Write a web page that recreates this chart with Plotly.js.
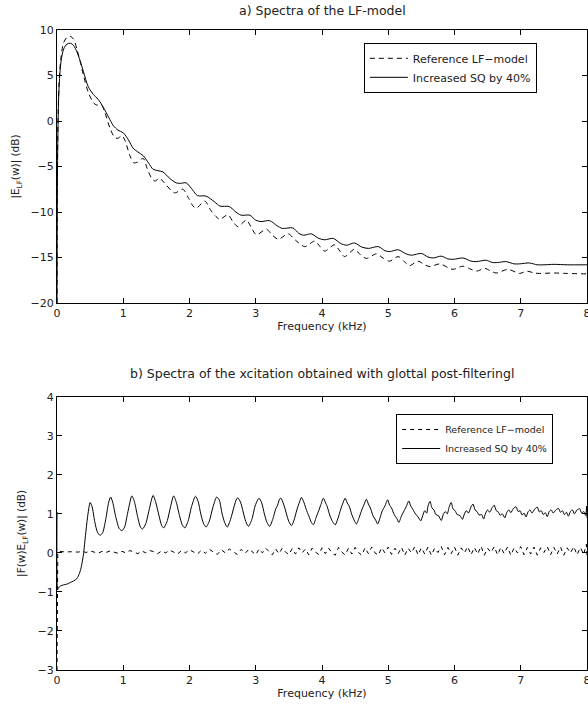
<!DOCTYPE html>
<html>
<head>
<meta charset="utf-8">
<script src="https://cdn.plot.ly/plotly-3.0.1.min.js"></script>
<style>html,body{margin:0;padding:0;background:#fff;}#chart{width:588px;height:704px;}</style>
</head>
<body>
<div id="chart"></div>
<script>
// ---------- a) Spectra of the LF-model ----------
var topRefFreq = [0,0.005,0.015,0.03,0.06,0.1,0.15,0.2,0.25,0.3,0.35,0.4,0.47,0.55,0.6,0.67,0.72,0.8,0.87,0.92,0.98,1.03,1.1,1.16,1.22,1.3,1.36,1.43,1.48,1.55,1.62,1.72,1.78,1.9,1.98,2.05,2.1,2.23,2.32,2.4,2.46,2.58,2.65,2.73,2.86,2.94,3.01,3.16,3.26,3.34,3.49,3.6,3.74,3.89,3.97,4.04,4.19,4.27,4.34,4.49,4.58,4.67,4.82,4.93,5.02,5.15,5.25,5.32,5.45,5.55,5.63,5.78,5.9,5.98,6.13,6.25,6.33,6.46,6.55,6.63,6.81,6.92,6.98,7.1,7.2,7.28,7.5,7.7,8];
var topRef = [-20,-6,0,4,7,8.6,9.2,9.3,9.0,7.9,6.5,5.0,3.2,2.0,1.75,1.75,1.0,-0.8,-1.8,-1.9,-1.6,-2.2,-3.8,-4.6,-4.5,-4.1,-5.2,-6.3,-6.6,-6.3,-6.8,-7.6,-7.9,-7.5,-8.4,-9.3,-9.6,-8.8,-9.8,-10.5,-10.8,-10.3,-11.0,-11.6,-10.9,-11.8,-12.5,-11.9,-12.6,-13.0,-12.4,-13.1,-13.8,-13.2,-13.8,-14.3,-13.6,-14.3,-14.9,-14.1,-14.7,-15.1,-14.6,-15.1,-15.4,-14.9,-15.5,-15.9,-15.4,-15.8,-16.0,-15.7,-16.1,-16.3,-15.95,-16.3,-16.5,-16.2,-16.5,-16.7,-16.3,-16.6,-16.75,-16.5,-16.7,-16.75,-16.7,-16.75,-16.8];

var topSqFreq = [0,0.005,0.015,0.03,0.06,0.1,0.15,0.2,0.25,0.3,0.35,0.4,0.47,0.55,0.62,0.7,0.78,0.85,0.92,1.0,1.08,1.15,1.22,1.3,1.38,1.45,1.52,1.6,1.7,1.8,1.86,1.95,2.05,2.12,2.25,2.38,2.46,2.6,2.7,2.78,2.91,3.0,3.08,3.21,3.32,3.4,3.56,3.65,3.72,3.84,3.95,4.04,4.17,4.28,4.37,4.49,4.6,4.7,4.85,4.95,5.02,5.15,5.27,5.35,5.5,5.6,5.68,5.8,5.9,5.98,6.13,6.25,6.33,6.48,6.57,6.65,6.78,6.9,6.98,7.13,7.25,7.35,7.5,7.7,8];
var topSq = [-20,-8,-1,3.5,6.5,7.9,8.45,8.55,8.3,7.6,6.6,5.4,3.8,2.9,2.4,1.5,0.4,-0.5,-1.0,-1.3,-2.1,-3.0,-3.4,-3.8,-4.6,-5.3,-5.45,-5.6,-6.3,-6.8,-6.85,-6.8,-7.6,-8.2,-8.25,-8.9,-9.35,-9.4,-10.0,-10.35,-10.35,-10.9,-11.05,-10.95,-11.5,-11.8,-11.75,-12.35,-12.55,-12.4,-12.9,-13.05,-12.9,-13.45,-13.65,-13.4,-13.85,-14.0,-13.8,-14.25,-14.35,-14.15,-14.6,-14.75,-14.55,-14.95,-15.05,-14.85,-15.15,-15.2,-15.05,-15.4,-15.45,-15.3,-15.55,-15.55,-15.45,-15.7,-15.7,-15.6,-15.8,-15.8,-15.75,-15.8,-15.8];

// ---------- b) Spectra of the excitation with glottal post-filtering ----------
var botRefFreq = [0,0.006,0.012,0.03,0.08,0.14,0.2,0.26,0.32,0.38,0.44,0.5,0.56,0.62,0.68,0.74,0.8,0.86,0.92,0.98,1.04,1.1,1.16,1.22,1.28,1.34,1.4,1.46,1.52,1.58,1.64,1.7,1.76,1.82,1.88,1.94,2.0,2.06,2.12,2.18,2.24,2.3,2.36,2.42,2.48,2.54,2.6,2.66,2.72,2.78,2.84,2.9,2.96,3.0,3.05,3.1,3.15,3.2,3.25,3.3,3.35,3.4,3.45,3.5,3.55,3.6,3.65,3.7,3.75,3.8,3.85,3.9,3.95,4.0,4.05,4.1,4.15,4.2,4.25,4.3,4.35,4.4,4.45,4.5,4.55,4.6,4.65,4.7,4.75,4.8,4.85,4.9,4.95,5.0,5.05,5.1,5.15,5.2,5.25,5.3,5.35,5.4,5.45,5.5,5.55,5.6,5.65,5.7,5.75,5.8,5.85,5.9,5.95,6.0,6.05,6.1,6.15,6.2,6.25,6.3,6.35,6.4,6.45,6.5,6.55,6.6,6.65,6.7,6.75,6.8,6.85,6.9,6.95,7.0,7.05,7.1,7.15,7.2,7.25,7.3,7.35,7.4,7.45,7.5,7.55,7.6,7.65,7.7,7.75,7.8,7.85,7.9,7.95,7.99,8.0];
var botRef = [-3.0,-1.0,0.0,0.04,0.03,0.02,0.03,0.02,0.02,0.04,0.01,0.05,0.02,-0.01,0.04,0.01,0.05,0.02,-0.01,0.04,0.0,0.06,0.02,-0.02,0.05,0.0,0.06,0.03,-0.02,0.05,0.0,0.07,0.02,-0.03,0.06,0.0,0.08,0.02,-0.03,0.07,-0.01,0.09,0.02,-0.04,0.08,0.0,0.1,0.03,-0.04,0.09,-0.01,0.1,0.02,-0.05,0.1,0.0,0.12,0.03,-0.05,0.1,-0.02,0.12,0.02,-0.04,0.11,-0.03,0.13,0.0,0.1,-0.05,0.12,0.02,-0.04,0.13,-0.02,0.12,0.0,-0.06,0.14,0.02,-0.05,0.12,-0.03,0.14,0.01,-0.06,0.13,-0.02,0.15,0.0,-0.06,0.13,0.0,0.15,-0.04,0.12,-0.02,0.14,-0.06,0.12,0.0,0.16,-0.05,0.13,-0.03,0.15,-0.06,0.12,0.01,0.16,-0.05,0.14,-0.02,0.15,-0.06,0.13,0.0,0.16,-0.05,0.14,-0.03,0.17,-0.06,0.12,0.01,0.16,-0.05,0.14,-0.02,0.15,-0.06,0.13,0.0,0.16,-0.05,0.14,-0.03,0.15,-0.06,0.13,0.01,0.16,-0.05,0.14,-0.03,0.15,-0.06,0.13,0.0,0.16,-0.05,0.14,-0.04,0.22,-0.08];

var botSqFreq = [0,0.008,0.02,0.05,0.1,0.15,0.2,0.25,0.3,0.34,0.37,0.4,0.43,0.46,0.5,0.53,0.57,0.61,0.65,0.69,0.74,0.78,0.81,0.84,0.89,0.94,0.98,1.02,1.07,1.13,1.17,1.22,1.26,1.29,1.34,1.39,1.45,1.49,1.54,1.58,1.61,1.66,1.71,1.76,1.8,1.85,1.89,1.93,1.98,2.03,2.09,2.13,2.17,2.21,2.25,2.3,2.35,2.41,2.45,2.49,2.53,2.57,2.62,2.67,2.71,2.73,2.77,2.81,2.85,2.89,2.94,2.99,3.03,3.05,3.09,3.13,3.17,3.21,3.26,3.3,3.33,3.36,3.38,3.42,3.46,3.5,3.54,3.58,3.62,3.66,3.69,3.73,3.76,3.8,3.84,3.87,3.91,3.95,3.98,4.02,4.05,4.08,4.12,4.16,4.2,4.24,4.27,4.31,4.35,4.38,4.41,4.45,4.49,4.52,4.56,4.6,4.63,4.67,4.7,4.73,4.77,4.81,4.84,4.88,4.91,4.95,4.99,5.02,5.05,5.09,5.13,5.16,5.2,5.23,5.27,5.31,5.34,5.37,5.41,5.45,5.49,5.52,5.55,5.58,5.6,5.63,5.66,5.69,5.72,5.76,5.8,5.83,5.86,5.89,5.92,5.95,5.98,6.01,6.04,6.08,6.12,6.15,6.18,6.21,6.25,6.28,6.31,6.34,6.37,6.41,6.44,6.47,6.5,6.53,6.57,6.6,6.63,6.66,6.69,6.72,6.76,6.79,6.82,6.85,6.89,6.93,6.96,6.99,7.02,7.05,7.08,7.11,7.14,7.17,7.21,7.25,7.28,7.31,7.34,7.37,7.4,7.43,7.46,7.49,7.53,7.57,7.6,7.63,7.66,7.69,7.72,7.75,7.78,7.81,7.85,7.89,7.92,7.95,7.98,7.995,8.0];
var botSq = [1.05,-0.95,-0.9,-0.85,-0.82,-0.8,-0.76,-0.72,-0.66,-0.52,-0.33,-0.03,0.45,0.9,1.29,1.18,0.8,0.53,0.45,0.52,0.9,1.3,1.43,1.3,0.9,0.62,0.57,0.66,1.05,1.46,1.3,0.9,0.66,0.61,0.75,1.1,1.47,1.3,0.95,0.7,0.64,0.8,1.15,1.46,1.3,0.95,0.72,0.64,0.82,1.18,1.45,1.32,1.0,0.76,0.66,0.82,1.15,1.43,1.35,1.02,0.78,0.66,0.86,1.17,1.38,1.41,1.3,1.05,0.8,0.68,0.85,1.2,1.36,1.4,1.28,1.0,0.78,0.68,0.88,1.12,1.22,1.38,1.4,1.25,1.02,0.8,0.7,0.85,1.1,1.3,1.42,1.28,1.12,0.95,0.78,0.72,0.9,1.08,1.22,1.4,1.3,1.18,0.95,0.8,0.72,0.88,1.05,1.25,1.4,1.28,1.2,0.98,0.82,0.74,0.9,1.1,1.22,1.37,1.25,1.15,0.95,0.84,0.74,0.92,1.08,1.2,1.36,1.22,1.15,0.98,0.88,0.78,0.95,1.05,1.18,1.33,1.2,1.12,1.0,0.92,0.82,0.95,1.08,1.02,1.2,1.32,1.15,1.1,0.98,0.95,0.83,0.98,1.06,1.0,1.18,1.29,1.12,1.08,0.98,0.96,0.86,1.0,1.08,1.02,1.18,1.25,1.1,1.06,0.97,0.98,0.87,1.02,1.1,1.04,1.16,1.22,1.08,1.05,0.96,1.0,0.9,1.04,1.1,1.03,1.14,1.18,1.06,1.08,0.97,1.02,0.92,1.05,1.1,1.02,1.12,1.17,1.05,1.08,0.98,1.03,0.93,1.06,1.1,1.02,1.1,1.14,1.04,1.08,0.98,1.04,0.94,1.06,1.1,1.0,1.1,1.13,1.02,1.06,0.96,1.2,0.9];

var xTicks = [0,1,2,3,4,5,6,7,8];
var xTickText = ['0','1','2','3','4','5','6','7','8'];

var legendRef = "Reference LF\u2212model";
var legendSq = "Increased SQ by 40%";

var axisCommon = {
  showline: true, linecolor: '#000', linewidth: 1, mirror: 'ticks',
  ticks: 'inside', ticklen: 5, tickcolor: '#000', tickwidth: 1,
  showgrid: false, zeroline: false, tickfont: {family: 'DejaVu Sans', size: 11, color: '#222'}
};
function ax(extra) { return Object.assign({}, axisCommon, extra); }

var traces = [
  {x: topRefFreq, y: topRef, xaxis: 'x', yaxis: 'y', mode: 'lines', name: legendRef, legend: 'legend',
   line: {color: '#000', width: 1, dash: '5px,4px', shape: 'spline', smoothing: 0.8}},
  {x: topSqFreq, y: topSq, xaxis: 'x', yaxis: 'y', mode: 'lines', name: legendSq, legend: 'legend',
   line: {color: '#000', width: 1, shape: 'spline', smoothing: 0.8}},
  {x: botRefFreq, y: botRef, xaxis: 'x2', yaxis: 'y2', mode: 'lines', name: legendRef, legend: 'legend2',
   line: {color: '#000', width: 1, dash: '4px,4px'}},
  {x: botSqFreq, y: botSq, xaxis: 'x2', yaxis: 'y2', mode: 'lines', name: legendSq, legend: 'legend2',
   line: {color: '#000', width: 1, shape: 'spline', smoothing: 0.7}}
];

var layout = {
  width: 588, height: 704,
  margin: {l: 57, r: 1, t: 30, b: 34},
  paper_bgcolor: '#fff', plot_bgcolor: '#fff',
  font: {family: 'DejaVu Sans', color: '#222', size: 11},
  showlegend: true,
  xaxis: ax({domain: [0, 1], range: [0, 8], tickmode: 'array', tickvals: xTicks, ticktext: xTickText,
    ticklabeloverflow: 'allow', anchor: 'y',
    title: {text: 'Frequency (kHz)', font: {size: 11}, standoff: 0}}),
  yaxis: ax({domain: [0.5734, 1], range: [-20, 10], dtick: 5, anchor: 'x',
    title: {text: '|E<sub>LF</sub>(w)| (dB)', font: {size: 10.5}, standoff: 8}}),
  xaxis2: ax({domain: [0, 1], range: [0, 8], tickmode: 'array', tickvals: xTicks, ticktext: xTickText,
    ticklabeloverflow: 'allow', anchor: 'y2',
    title: {text: 'Frequency (kHz)', font: {size: 11}, standoff: 0}}),
  yaxis2: ax({domain: [0, 0.427], range: [-3, 4], dtick: 1, anchor: 'x2',
    title: {text: '|F(w)E<sub>LF</sub>(w)| (dB)', font: {size: 10.5}, standoff: 9}}),
  legend: {x: 0.579, y: 0.98, xanchor: 'left', yanchor: 'top', bgcolor: '#fff',
    bordercolor: '#000', borderwidth: 1, font: {family: 'DejaVu Sans', size: 11, color: '#222'},
    tracegroupgap: 0, itemwidth: 38, entrywidth: 190, entrywidthmode: 'pixels'},
  legend2: {x: 0.64, y: 0.4, xanchor: 'left', yanchor: 'top', bgcolor: '#fff',
    bordercolor: '#000', borderwidth: 1, font: {family: 'DejaVu Sans', size: 9.5, color: '#222'},
    tracegroupgap: 0, itemwidth: 38, entrywidth: 162, entrywidthmode: 'pixels'},
  annotations: [
    {text: 'a) Spectra of the LF-model', xref: 'paper', yref: 'paper', x: 0.5, y: 1.031,
     xanchor: 'center', yanchor: 'middle', showarrow: false, font: {size: 12.5, color: '#222'}},
    {text: 'b) Spectra of the xcitation obtained with glottal post-filteringl', xref: 'paper', yref: 'paper',
     x: 0.5, y: 0.464, xanchor: 'center', yanchor: 'middle', showarrow: false, font: {size: 12.5, color: '#222'}}
  ]
};

Plotly.newPlot('chart', traces, layout, {displayModeBar: false, staticPlot: true});
</script>
</body>
</html>
